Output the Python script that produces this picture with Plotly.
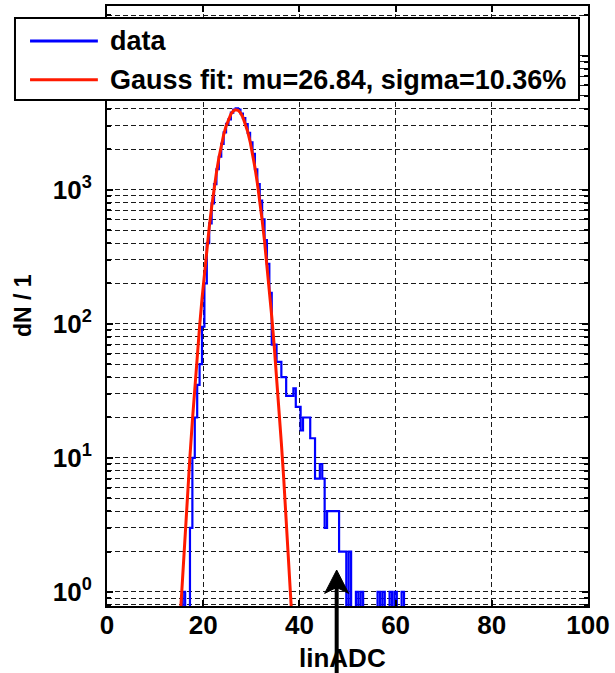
import plotly.graph_objects as go

# ---------------- data ----------------
bin_start = 15.25
bin_width = 0.5
counts = [0, 1, 0, 0, 3, 10, 20, 35, 50, 95,
          200, 400, 560, 790, 1100, 1420, 1760, 2200, 2680, 3100,
          3350, 3750, 3950, 4050, 3950, 3700, 3420, 3080, 2650, 2250,
          1850, 1420, 1100, 830, 600, 420, 280, 170, 70, 70,
          52, 52, 40, 40, 29, 29, 29, 33, 24, 24,
          16, 20, 20, 20, 14, 14, 7, 7, 9, 7,
          3, 4, 4, 4, 4, 4, 2, 2, 2, 0,
          2, 0, 0, 1, 0, 1, 0, 0, 0, 0,
          0, 0, 1, 0, 1, 0, 0, 1, 0, 1,
          0, 0, 1, 0, 0]

fit_x = [15.25, 15.75, 16.25, 16.75, 17.25, 17.75, 18.25, 18.75, 19.25, 19.75,
         20.25, 20.75, 21.25, 21.75, 22.25, 22.75, 23.25, 23.75, 24.25, 24.75,
         25.25, 25.75, 26.25, 26.75, 27.25, 27.75, 28.25, 28.75, 29.25, 29.75,
         30.25, 30.75, 31.25, 31.75, 32.25, 32.75, 33.25, 33.75, 34.25, 34.75,
         35.25, 35.75, 36.25, 36.75, 37.25, 37.75, 38.25, 38.75]
fit_y = [0.67, 1.39, 2.8, 5.5, 10.3, 18.9, 33.5, 57.4, 95.3, 153,
         238, 359, 524, 740, 1012, 1340, 1717, 2131, 2561, 2979,
         3355, 3658, 3863, 3948, 3907, 3744, 3474, 3120, 2713, 2285,
         1863, 1470, 1124, 831, 595, 413, 277, 180, 113.5, 69.2,
         40.8, 23.3, 12.9, 6.9, 3.6, 1.8, 0.87, 0.41]

x_tickvals = [0, 20, 40, 60, 80, 100]
y_tickvals = [1, 10, 100, 1000, 10000]
y_ticktext = ["10<sup>0</sup>", "10<sup>1</sup>", "10<sup>2</sup>", "10<sup>3</sup>", "10<sup>4</sup>"]
legend_labels = ["data", "Gauss fit: mu=26.84, sigma=10.36%"]
x_title = "linADC"
y_title = "dN / 1"
arrow_x = 47.75

# ---------------- figure ----------------
hist_x = [bin_start + i * bin_width for i in range(len(counts))]
hist_y = [c if c > 0 else 0.01 for c in counts]   # empty bins drop below the axis

BLUE = "#0000ff"
RED = "#ff1a00"
GRID = "#1a1a1a"
FONT = "Liberation Sans, Arial, sans-serif"
X_RANGE = [0, 100]

fig = go.Figure()
fig.add_trace(go.Scatter(x=hist_x, y=hist_y, mode="lines", name=legend_labels[0],
                         line=dict(color=BLUE, width=2.2, shape="hv"), showlegend=False))
fig.add_trace(go.Scatter(x=fit_x, y=fit_y, mode="lines", name=legend_labels[1],
                         line=dict(color=RED, width=3), showlegend=False))

minor_vals = [k * 10 ** e for e in range(-1, 5) for k in range(2, 10)]

fig.update_layout(
    width=615, height=673,
    margin=dict(l=107, r=27, t=6, b=67, autoexpand=False),
    plot_bgcolor="white", paper_bgcolor="white",
    showlegend=False,
    font=dict(family=FONT, size=26, color="black", weight="bold"),
    xaxis=dict(
        range=X_RANGE, tickmode="array", tickvals=x_tickvals, automargin=False,
        showline=True, linewidth=2, linecolor="black", mirror="ticks",
        ticks="inside", ticklen=6, tickwidth=1.5, tickcolor="black",
        showgrid=True, gridcolor=GRID, gridwidth=1, griddash="5px,3px",
        zeroline=False,
        tickfont=dict(family=FONT, size=26, color="black", weight="bold"),
        ticklabelstandoff=-5,
    ),
    yaxis=dict(
        type="log", range=[-0.105, 4.37], tickmode="array", automargin=False,
        tickvals=y_tickvals, ticktext=y_ticktext,
        showline=True, linewidth=2, linecolor="black", mirror="ticks",
        ticks="inside", ticklen=6, tickwidth=1.5, tickcolor="black",
        showgrid=True, gridcolor=GRID, gridwidth=1, griddash="5px,3px",
        zeroline=False,
        minor=dict(tickmode="array", tickvals=minor_vals, ticks="inside", ticklen=4,
                   tickcolor="black", showgrid=True, gridcolor=GRID, gridwidth=1,
                   griddash="5px,3px"),
        tickfont=dict(family=FONT, size=26, color="black", weight="bold"),
        ticklabelstandoff=8,
    ),
)

# ---- axis titles ----
fig.add_annotation(text=x_title, xref="paper", yref="paper", x=0.49, y=-0.087,
                   xanchor="center", yanchor="middle", showarrow=False,
                   font=dict(family=FONT, size=26, color="black", weight="bold"))
fig.add_annotation(text=y_title, xref="paper", yref="paper", x=-0.1746, y=0.5,
                   xanchor="center", yanchor="middle", showarrow=False, textangle=-90,
                   font=dict(family=FONT, size=23, color="black", weight="bold"))

# ---- legend drawn as a box (matlab style, long sample lines) ----
fig.add_shape(type="rect", xref="paper", yref="paper",
              x0=-0.1913, x1=0.9813, y0=0.8433, y1=0.98,
              line=dict(color="black", width=2), fillcolor="white", layer="above")
leg_rows_y = [0.9417, 0.8772]
for label, col, yy in zip(legend_labels, [BLUE, RED], leg_rows_y):
    fig.add_shape(type="line", xref="paper", yref="paper",
                  x0=-0.160, x1=-0.019, y0=yy, y1=yy,
                  line=dict(color=col, width=3), layer="above")
    fig.add_annotation(text=label, xref="paper", yref="paper", x=0.002, y=yy,
                       xanchor="left", yanchor="middle", showarrow=False,
                       font=dict(family=FONT, size=27, color="black", weight="bold"))

# ---- black arrow pointing at the tail (drawn with shapes) ----
ax_p = (arrow_x - X_RANGE[0]) / (X_RANGE[1] - X_RANGE[0])
half_w = 0.025
tip_y, wing_y, notch_y, tail_y = 0.06, 0.021, 0.031, -0.13
fig.add_shape(type="line", xref="paper", yref="paper",
              x0=ax_p, x1=ax_p, y0=tail_y, y1=notch_y + 0.004,
              line=dict(color="black", width=4), layer="above")
fig.add_shape(type="path", xref="paper", yref="paper",
              path=(f"M {ax_p},{tip_y} L {ax_p - half_w},{wing_y} "
                    f"L {ax_p},{notch_y} L {ax_p + half_w},{wing_y} Z"),
              fillcolor="black", line=dict(color="black", width=1), layer="above")

fig.write_html("out.html")
